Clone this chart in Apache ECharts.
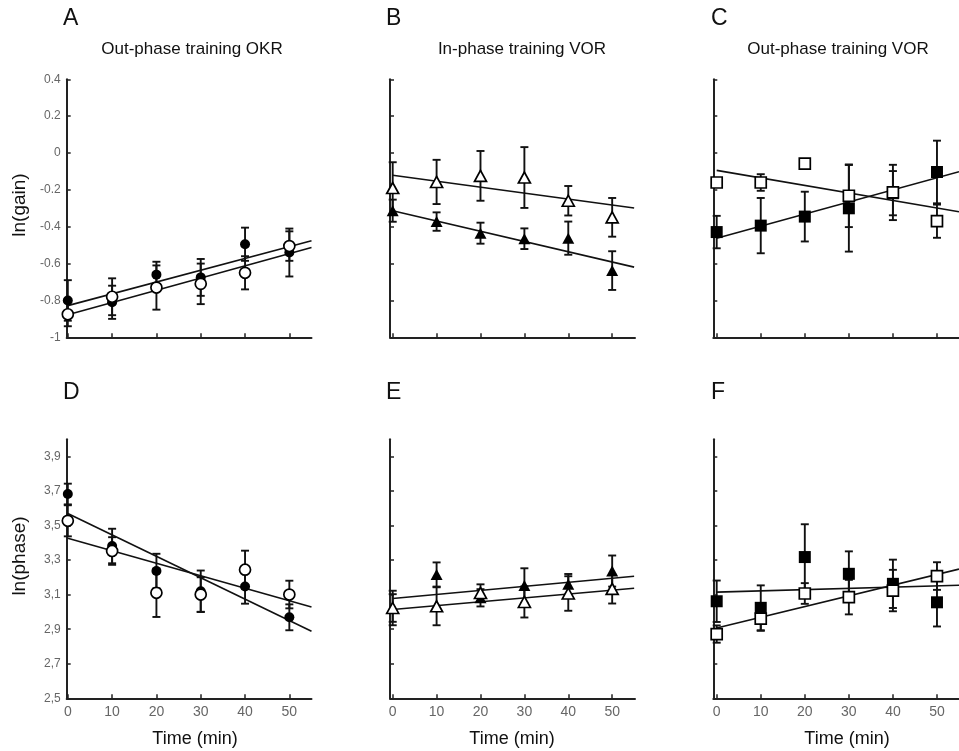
<!DOCTYPE html>
<html>
<head>
<meta charset="utf-8">
<script src="https://cdn.jsdelivr.net/npm/echarts@6/dist/echarts.min.js"></script>
<style>
html,body{margin:0;padding:0;background:#fff;}
#chart{width:959px;height:751px;}
</style>
</head>
<body>
<div id="chart"></div>
<script>
// ---- data ----
const times = [0, 10, 20, 30, 40, 50];
const gainTicks = [-1, -0.8, -0.6, -0.4, -0.2, 0, 0.2, 0.4];
const phaseTicks = [2.5, 2.7, 2.9, 3.1, 3.3, 3.5, 3.7, 3.9];
const timeTicks = [0, 10, 20, 30, 40, 50];

const panelLetters = ['A', 'B', 'C', 'D', 'E', 'F'];
const panelTitles = ['Out-phase training OKR', 'In-phase training VOR', 'Out-phase training VOR'];

// A: out-phase OKR, ln(gain)
const aFilledMean = [-0.80, -0.81, -0.66, -0.675, -0.495, -0.54];
const aFilledErr  = [0.11, 0.09, 0.07, 0.10, 0.09, 0.13];
const aOpenMean   = [-0.875, -0.78, -0.73, -0.71, -0.65, -0.505];
const aOpenErr    = [0.065, 0.10, 0.12, 0.11, 0.09, 0.08];
const aFilledFit  = [-0.828, 0.0064];   // [intercept, slope]
const aOpenFit    = [-0.878, 0.00665];

// B: in-phase VOR, ln(gain)
const bOpenMean   = [-0.19, -0.157, -0.124, -0.133, -0.259, -0.349];
const bOpenErr    = [0.14, 0.12, 0.135, 0.165, 0.08, 0.105];
const bFilledMean = [-0.313, -0.372, -0.435, -0.465, -0.462, -0.638];
const bFilledErr  = [0.06, 0.05, 0.057, 0.056, 0.09, 0.105];
const bOpenFit    = [-0.121, -0.00323];
const bFilledFit  = [-0.313, -0.00557];

// C: out-phase VOR, ln(gain)
const cFilledMean = [-0.429, -0.394, -0.345, -0.30, -0.218, -0.103];
const cFilledErr  = [0.088, 0.15, 0.135, 0.235, 0.12, 0.17];
const cOpenMean   = [-0.16, -0.16, -0.058, -0.232, -0.214, -0.37];
const cOpenErr    = [0, 0.045, 0, 0.17, 0.15, 0.09];
const cFilledFit  = [-0.462, 0.00655];
const cOpenFit    = [-0.094, -0.00409];

// D: out-phase OKR, ln(phase)
const dFilledMean = [3.683, 3.382, 3.237, 3.12, 3.148, 2.969];
const dFilledErr  = [0.06, 0.10, 0.10, 0.12, 0.10, 0.075];
const dOpenMean   = [3.528, 3.353, 3.111, 3.101, 3.245, 3.101];
const dOpenErr    = [0.09, 0.08, 0.14, 0.10, 0.11, 0.08];
const dFilledFit  = [3.570, -0.0124];
const dOpenFit    = [3.427, -0.00723];

// E: in-phase VOR, ln(phase)
const eFilledMean = [3.023, 3.217, 3.082, 3.153, 3.16, 3.237];
const eFilledErr  = [0.08, 0.07, 0.05, 0.10, 0.06, 0.09];
const eOpenMean   = [3.023, 3.033, 3.11, 3.058, 3.107, 3.134];
const eOpenErr    = [0.10, 0.11, 0.05, 0.09, 0.10, 0.085];
const eFilledFit  = [3.078, 0.00235];
const eOpenFit    = [3.014, 0.00224];

// F: out-phase VOR, ln(phase)
const fFilledMean = [3.062, 3.024, 3.318, 3.221, 3.163, 3.056];
const fFilledErr  = [0.12, 0.13, 0.19, 0.13, 0.14, 0.14];
const fOpenMean   = [2.872, 2.961, 3.107, 3.086, 3.124, 3.208];
const fOpenErr    = [0.05, 0.07, 0.06, 0.10, 0.12, 0.08];
const fFilledFit  = [3.115, 0.00073];
const fOpenFit    = [2.907, 0.0062];

const fitEnd = 55;

// ---- layout ----
const cols = [
  {left: 66.7, width: 244.8, min: -0.25, max: 55},
  {left: 390, width: 245, min: -0.615, max: 55.2},
  {left: 713.3, width: 246.5, min: -0.77, max: 55}
];
const rows = [
  {top: 79.3, height: 258, min: -1, max: 0.4, ticks: gainTicks, fmt: v => String(v)},
  {top: 439.3, height: 259, min: 2.5, max: 4.0, ticks: phaseTicks, fmt: v => v.toFixed(1).replace('.', ',')}
];

const panels = [
  {filled: [aFilledMean, aFilledErr, aFilledFit], open: [aOpenMean, aOpenErr, aOpenFit], sym: 'circle'},
  {filled: [bFilledMean, bFilledErr, bFilledFit], open: [bOpenMean, bOpenErr, bOpenFit], sym: 'triangle'},
  {filled: [cFilledMean, cFilledErr, cFilledFit], open: [cOpenMean, cOpenErr, cOpenFit], sym: 'rect'},
  {filled: [dFilledMean, dFilledErr, dFilledFit], open: [dOpenMean, dOpenErr, dOpenFit], sym: 'circle'},
  {filled: [eFilledMean, eFilledErr, eFilledFit], open: [eOpenMean, eOpenErr, eOpenFit], sym: 'triangle'},
  {filled: [fFilledMean, fFilledErr, fFilledFit], open: [fOpenMean, fOpenErr, fOpenFit], sym: 'rect'}
];

const INK = '#111';
const grids = [], xAxes = [], yAxes = [], series = [];

function errRender(params, api) {
  const x = api.value(0), m = api.value(1), e = api.value(2);
  if (!e) return null;
  const t = api.coord([x, m + e]), b = api.coord([x, m - e]);
  const hw = 4;
  const st = {stroke: INK, lineWidth: 1.9};
  return {type: 'group', children: [
    {type: 'line', shape: {x1: t[0], y1: t[1], x2: b[0], y2: b[1]}, style: st},
    {type: 'line', shape: {x1: t[0] - hw, y1: t[1], x2: t[0] + hw, y2: t[1]}, style: st},
    {type: 'line', shape: {x1: b[0] - hw, y1: b[1], x2: b[0] + hw, y2: b[1]}, style: st}
  ]};
}

panels.forEach((p, i) => {
  const r = Math.floor(i / 3), c = i % 3;
  const col = cols[c], row = rows[r];
  grids.push({left: col.left, width: col.width, top: row.top, height: row.height, containLabel: false});
  xAxes.push({
    type: 'value', gridIndex: i, min: col.min, max: col.max,
    axisLine: {onZero: false, lineStyle: {color: '#222', width: 2}},
    axisTick: {inside: true, length: 4, lineStyle: {color: '#222', width: 1.5}, customValues: timeTicks},
    axisLabel: {show: r === 1, customValues: timeTicks, margin: 7, color: '#666', fontSize: 14, fontFamily: 'Liberation Sans'},
    splitLine: {show: false}
  });
  yAxes.push({
    type: 'value', gridIndex: i, min: row.min, max: row.max,
    axisLine: {show: true, onZero: false, lineStyle: {color: '#222', width: 2}},
    axisTick: {show: true, inside: true, length: 4, lineStyle: {color: '#222', width: 1.5}, customValues: row.ticks},
    axisLabel: {show: c === 0, customValues: row.ticks, formatter: row.fmt, margin: 6, color: '#666', fontSize: 12, fontFamily: 'Liberation Sans'},
    splitLine: {show: false}
  });
  const groups = [['filled', p.filled], ['open', p.open]];
  groups.forEach(([kind, g]) => {
    series.push({
      type: 'custom', xAxisIndex: i, yAxisIndex: i, renderItem: errRender,
      encode: {x: 0, y: 1}, z: 2, silent: true,
      data: times.map((t, k) => [t, g[0][k], g[1][k]])
    });
  });
  groups.forEach(([kind, g]) => {
    series.push({
      type: 'line', xAxisIndex: i, yAxisIndex: i, symbol: 'none', z: 3, silent: true,
      lineStyle: {color: INK, width: 1.6},
      data: [[0, g[2][0]], [fitEnd, g[2][0] + g[2][1] * fitEnd]]
    });
  });
  groups.forEach(([kind, g]) => {
    const open = kind === 'open';
    let size = p.sym === 'circle' ? (open ? 11 : 10) : (p.sym === 'triangle' ? [12, 11] : (open ? 11 : 12));
    series.push({
      type: 'scatter', xAxisIndex: i, yAxisIndex: i, symbol: p.sym, symbolSize: size, z: open ? 5 : 4,
      itemStyle: {color: open ? '#fff' : '#000', borderColor: '#000', borderWidth: open ? 1.7 : 0, opacity: 1},
      data: times.map((t, k) => [t, g[0][k]])
    });
  });
});

const txt = (x, y, text, size, align, extra) => Object.assign({
  type: 'text', x: x, y: y,
  style: {text: text, fill: INK, font: size + 'px "Liberation Sans", Arial, sans-serif', textAlign: align, textVerticalAlign: 'middle'}
}, extra || {});

const graphics = [
  txt(63, 19, panelLetters[0], 23, 'left'),
  txt(386, 19, panelLetters[1], 23, 'left'),
  txt(711, 19, panelLetters[2], 23, 'left'),
  txt(63, 393, panelLetters[3], 23, 'left'),
  txt(386, 393, panelLetters[4], 23, 'left'),
  txt(711, 393, panelLetters[5], 23, 'left'),
  txt(192, 49, panelTitles[0], 17, 'center'),
  txt(522, 49, panelTitles[1], 17, 'center'),
  txt(838, 49, panelTitles[2], 17, 'center'),
  txt(195, 739, 'Time (min)', 18, 'center'),
  txt(512, 739, 'Time (min)', 18, 'center'),
  txt(847, 739, 'Time (min)', 18, 'center'),
  txt(20, 205, 'ln(gain)', 19, 'center', {rotation: Math.PI / 2}),
  txt(20, 556, 'ln(phase)', 19, 'center', {rotation: Math.PI / 2})
];

const chart = echarts.init(document.getElementById('chart'), null, {renderer: 'canvas'});
chart.setOption({
  animation: false,
  backgroundColor: '#fff',
  grid: grids, xAxis: xAxes, yAxis: yAxes, series: series,
  graphic: graphics
});
</script>
</body>
</html>
